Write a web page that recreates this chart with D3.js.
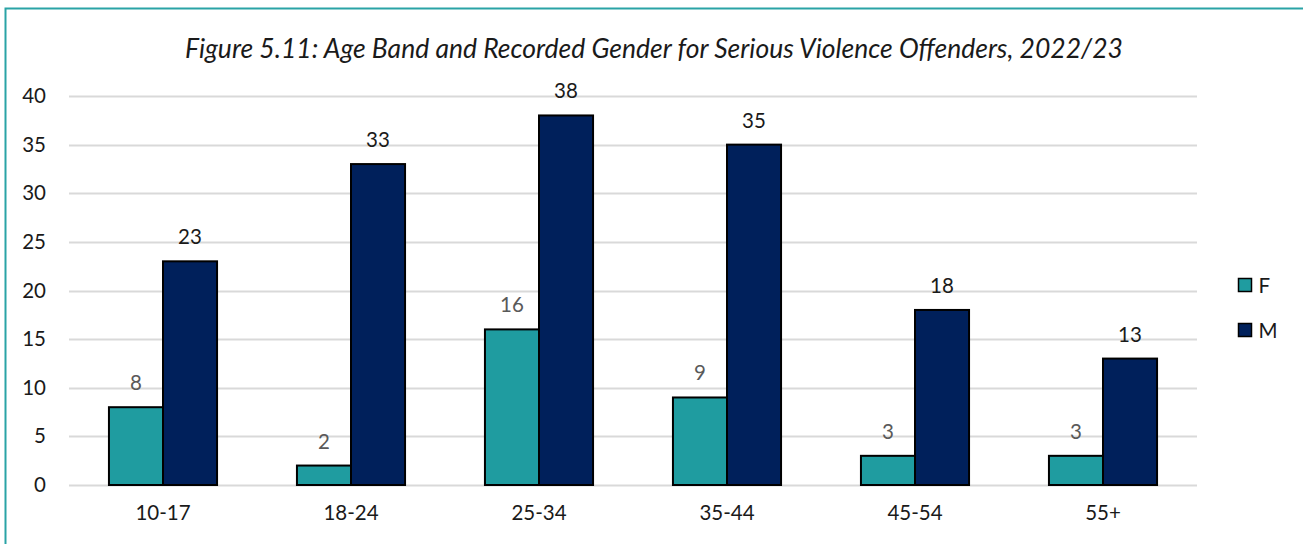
<!DOCTYPE html>
<html>
<head>
<meta charset="utf-8">
<script src="https://cdn.jsdelivr.net/npm/d3@7"></script>
<style>
  html, body { margin: 0; padding: 0; background: #fff; }
  svg { display: block; }
  text { font-family: Lato, "Open Sans", sans-serif; }
</style>
</head>
<body>
<svg id="chart" width="1303" height="544"></svg>
<script>
const title = "Figure 5.11: Age Band and Recorded Gender for Serious Violence Offenders, 2022/23";
const categories = ["10-17", "18-24", "25-34", "35-44", "45-54", "55+"];
const seriesNames = ["F", "M"];
const femaleValues = [8, 2, 16, 9, 3, 3];
const maleValues = [23, 33, 38, 35, 18, 13];
const yTicks = [0, 5, 10, 15, 20, 25, 30, 35, 40];

const colors = { F: "#1f9ca0", M: "#00205b" };
const labelColors = { F: "#595959", M: "#1a1a1a" };
const FONT = "Lato, 'Open Sans', sans-serif";

const svg = d3.select("#chart");
const W = 1303, H = 544;

// Outer frame
svg.append("rect")
  .attr("x", 5.5).attr("y", 8.5)
  .attr("width", W + 10).attr("height", H + 10)
  .attr("fill", "none").attr("stroke", "#2aa3a6").attr("stroke-width", 2);

const plot = { left: 69, right: 1197, top: 96, bottom: 485 };

const x0 = d3.scaleBand().domain(categories)
  .range([plot.left, plot.right]).paddingInner(0.425).paddingOuter(0.2125);
const x1 = d3.scaleBand().domain(seriesNames).range([0, x0.bandwidth()]);
const y = d3.scaleLinear().domain([0, 40]).range([plot.bottom, plot.top]);

// Title
svg.append("text")
  .attr("x", 654).attr("y", 58)
  .attr("text-anchor", "middle")
  .attr("font-style", "italic")
  .attr("font-size", 26.5)
  .attr("font-family", FONT)
  .attr("fill", "#1a1a1a")
  .text(title);

// Gridlines
svg.append("g").selectAll("line").data(yTicks).join("line")
  .attr("x1", plot.left).attr("x2", plot.right)
  .attr("y1", d => Math.round(y(d)) + 0.5).attr("y2", d => Math.round(y(d)) + 0.5)
  .attr("stroke", "#d9d9d9").attr("stroke-width", 2);

// Y axis labels
const yAxis = d3.axisLeft(y).tickValues(yTicks).tickSize(0).tickPadding(0);
const yg = svg.append("g").attr("transform", `translate(${plot.left - 23},0)`).call(yAxis);
yg.select(".domain").remove();
yg.selectAll("text")
  .attr("font-size", 20.5).attr("fill", "#1a1a1a")
  .attr("font-family", FONT);

// X axis labels
const xAxis = d3.axisBottom(x0).tickSize(0).tickPadding(0);
const xg = svg.append("g").attr("transform", `translate(0,${plot.bottom + 20})`).call(xAxis);
xg.select(".domain").remove();
xg.selectAll("text")
  .attr("font-size", 20.5).attr("fill", "#1a1a1a")
  .attr("font-family", FONT);

// Bars
const rows = categories.map((c, i) => ({ cat: c, F: femaleValues[i], M: maleValues[i] }));
const groups = svg.append("g").selectAll("g").data(rows).join("g")
  .attr("transform", d => `translate(${x0(d.cat)},0)`);

groups.selectAll("rect").data(d => seriesNames.map(k => ({ key: k, value: d[k] }))).join("rect")
  .attr("x", d => x1(d.key))
  .attr("y", d => y(d.value))
  .attr("width", x1.bandwidth())
  .attr("height", d => y(0) - y(d.value))
  .attr("fill", d => colors[d.key])
  .attr("stroke", "#000").attr("stroke-width", 2);

groups.selectAll("text.val").data(d => seriesNames.map(k => ({ key: k, value: d[k] }))).join("text")
  .attr("class", "val")
  .attr("x", d => x1(d.key) + x1.bandwidth() / 2)
  .attr("y", d => y(d.value) - 17)
  .attr("text-anchor", "middle")
  .attr("font-size", 20.5)
  .attr("font-family", FONT)
  .attr("fill", d => labelColors[d.key])
  .text(d => d.value);

// Legend
const legend = svg.append("g").selectAll("g").data(seriesNames).join("g")
  .attr("transform", (d, i) => `translate(1238.5,${278.5 + i * 45})`);
legend.append("rect")
  .attr("width", 13).attr("height", 13)
  .attr("fill", d => colors[d]).attr("stroke", "#000").attr("stroke-width", 1.5);
legend.append("text")
  .attr("x", 20).attr("y", 14)
  .attr("font-size", 20.5).attr("font-family", FONT).attr("fill", "#1a1a1a")
  .text(d => d);
</script>
</body>
</html>
